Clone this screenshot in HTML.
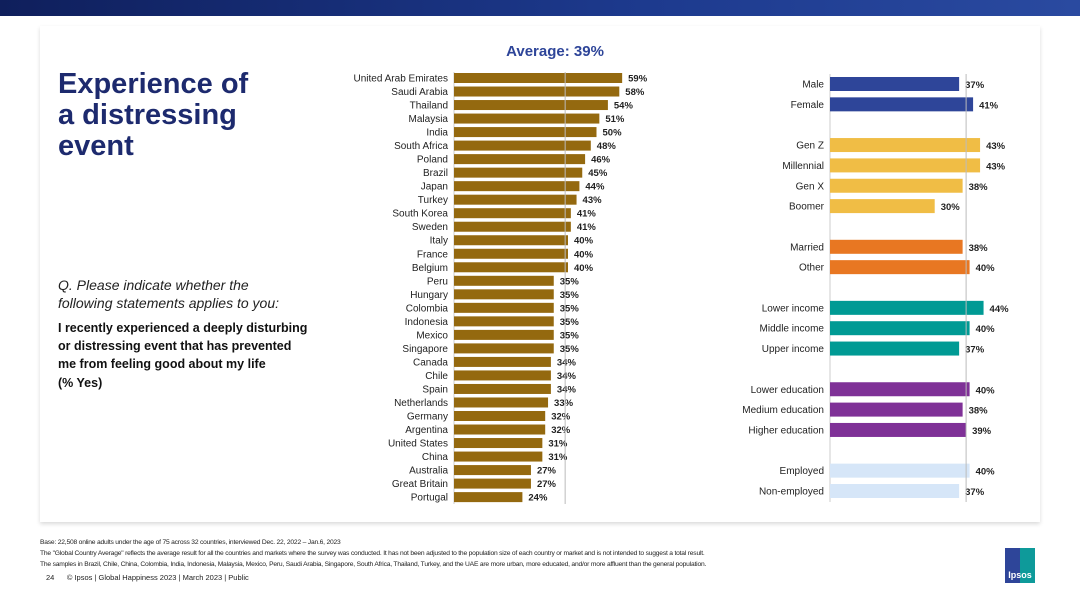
<!DOCTYPE html>
<html><head><meta charset="utf-8"><style>
body{margin:0;width:1080px;height:608px;background:#fff;font-family:"Liberation Sans",sans-serif;position:relative;overflow:hidden}
.abs{position:absolute}
</style></head><body>
<div class="abs" style="left:0;top:0;width:1080px;height:16px;background:linear-gradient(90deg,#0f1f5c,#1d3a8e 60%,#2a4aa0)"></div>
<div class="abs" style="left:40px;top:26px;width:1000px;height:496px;background:#fff;box-shadow:0 2px 4px rgba(0,0,0,0.15)"></div>
<div class="abs" style="left:58px;top:69px;font-size:29px;font-weight:bold;color:#1d2a6e;line-height:31px">Experience of<br>a distressing<br>event</div>
<div class="abs" style="left:58px;top:276px;font-size:14px;font-style:italic;color:#222;line-height:18px">Q. Please indicate whether the<br>following statements applies to you:</div>
<div class="abs" style="left:58px;top:319px;font-size:12.5px;font-weight:bold;color:#111;line-height:18px">I recently experienced a deeply disturbing<br>or distressing event that has prevented<br>me from feeling good about my life</div>
<div class="abs" style="left:58px;top:376px;font-size:12.5px;font-weight:bold;color:#111">(% Yes)</div>
<div class="abs" style="left:490px;top:43px;width:130px;text-align:center;font-size:15px;font-weight:bold;color:#2e4599">Average: 39%</div>
<svg class="abs" style="left:0;top:0" width="1080" height="608" id="chart"></svg>
<div class="abs" style="left:40px;top:537px;font-size:6.7px;color:#222;line-height:11px;white-space:nowrap;letter-spacing:-0.2px">Base: 22,508 online adults under the age of 75 across 32 countries, interviewed Dec. 22, 2022 – Jan.6, 2023<br>The "Global Country Average" reflects the average result for all the countries and markets where the survey was conducted. It has not been adjusted to the population size of each country or market and is not intended to suggest a total result.<br>The samples in Brazil, Chile, China, Colombia, India, Indonesia, Malaysia, Mexico, Peru, Saudi Arabia, Singapore, South Africa, Thailand, Turkey, and the UAE are more urban, more educated, and/or more affluent than the general population.</div>
<div class="abs" style="left:46px;top:573px;font-size:7.5px;color:#222">24 &nbsp;&nbsp;&nbsp;&nbsp;&nbsp;© Ipsos | Global Happiness 2023 | March 2023 | Public</div>
<div class="abs" style="left:1005px;top:548px;width:30px;height:35px;background:linear-gradient(90deg,#2e4599 50%,#0e9a9a 50%);color:#fff;font-size:9px;font-weight:bold;text-align:center;line-height:10px"><div style="height:22px"></div>Ipsos</div>
<script>
const countries=["United Arab Emirates","Saudi Arabia","Thailand","Malaysia","India","South Africa","Poland","Brazil","Japan","Turkey","South Korea","Sweden","Italy","France","Belgium","Peru","Hungary","Colombia","Indonesia","Mexico","Singapore","Canada","Chile","Spain","Netherlands","Germany","Argentina","United States","China","Australia","Great Britain","Portugal"];
const countryValues=[59,58,54,51,50,48,46,45,44,43,41,41,40,40,40,35,35,35,35,35,35,34,34,34,33,32,32,31,31,27,27,24];
const average=39;
const groups=["Male","Female","","Gen Z","Millennial","Gen X","Boomer","","Married","Other","","Lower income","Middle income","Upper income","","Lower education","Medium education","Higher education","","Employed","Non-employed"];
const groupValues=[37,41,null,43,43,38,30,null,38,40,null,44,40,37,null,40,38,39,null,40,37];
const groupColors=["#2e4599","#2e4599","","#f0bd45","#f0bd45","#f0bd45","#f0bd45","","#e87722","#e87722","","#009a94","#009a94","#009a94","","#7f3197","#7f3197","#7f3197","","#d6e6f8","#d6e6f8"];
const svg=document.getElementById('chart');
const NS='http://www.w3.org/2000/svg';
function mk(t,a,txt){const e=document.createElementNS(NS,t);for(const k in a)e.setAttribute(k,a[k]);if(txt!=null)e.textContent=txt;svg.appendChild(e);return e;}
const lx=v=>454+v*2.85, ly=i=>78+i*13.52;
mk('line',{x1:454,y1:72,x2:454,y2:504,stroke:'#ccc'});
countries.forEach((c,i)=>{
 const y=ly(i);
 let t=mk('text',{x:448,y:y+3.5,'text-anchor':'end','font-size':10,fill:'#222','font-family':'Liberation Sans'},c);
 
 let r=mk('rect',{x:454,y:y-5,width:lx(countryValues[i])-454,height:10,fill:'#94690f'});
 
 let v=mk('text',{x:lx(countryValues[i])+6,y:y+3.5,'font-size':9.5,'font-weight':'bold',fill:'#222','font-family':'Liberation Sans'},countryValues[i]+'%');
 
});
mk('line',{x1:lx(average),y1:72,x2:lx(average),y2:504,stroke:'#bbb'});
const rx=v=>830+v*3.49, ry=i=>84+i*20.35;
mk('line',{x1:830,y1:74,x2:830,y2:502,stroke:'#ccc'});
groups.forEach((g,i)=>{
 if(groupValues[i]==null)return;
 const y=ry(i);
 let t=mk('text',{x:824,y:y+3.5,'text-anchor':'end','font-size':10,fill:'#222','font-family':'Liberation Sans'},g);
 
 let r=mk('rect',{x:830,y:y-7,width:rx(groupValues[i])-830,height:14,fill:groupColors[i]});
 
 let v=mk('text',{x:rx(groupValues[i])+6,y:y+4,'font-size':9.5,'font-weight':'bold',fill:'#222','font-family':'Liberation Sans'},groupValues[i]+'%');
 
});
mk('line',{x1:rx(average),y1:74,x2:rx(average),y2:502,stroke:'#bbb'});
</script>
</body></html>
